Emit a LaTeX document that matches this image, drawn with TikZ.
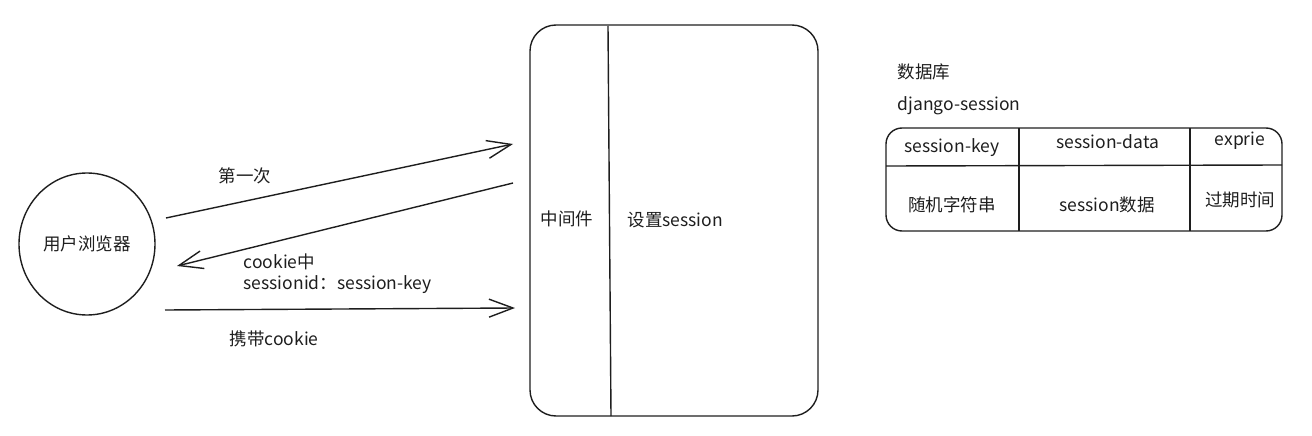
\documentclass[tikz,border=0pt]{standalone}
\usepackage{fontspec}
\newfontfamily\cjk{Noto Sans CJK SC}
\usetikzlibrary{arrows.meta,shapes.geometric}
\definecolor{ink}{HTML}{1E1E1E}
\tikzset{
	txt/.style={font=\cjk\fontsize{17.5}{22}\selectfont, text=ink, inner sep=0pt},
	flow/.style={draw=ink, line width=1.4pt, -{Straight Barb[length=24pt, width=18pt, line width=1.4pt]}}
}
\begin{document}
\begin{tikzpicture}[x=1pt, y=-1pt, line width=1.4pt]
	\useasboundingbox (0,0) rectangle (1312,436);
	
	% browser
	\node[draw=ink, ellipse, minimum width=136pt, minimum height=142pt, txt] (browser) at (87,244) {用户浏览器};
	
	% middleware
	\node[draw=ink, rounded corners=26pt, minimum width=288pt, minimum height=391pt] (mw) at (674,220.5) {};
	\coordinate (mwtop) at (608,26);
	\coordinate (mwbot) at (611,416);
	\draw[ink] (mwtop)--(mwbot);
	\node[txt] (mwlabel) at (567,219) {中间件};
	\node[txt, anchor=west] (setsess) at (627,220) {设置session};
	
	% arrows
	\coordinate (a1s) at (166,218);
	\coordinate (a1e) at (513,144);
	\coordinate (a2s) at (513,183);
	\coordinate (a2e) at (177,266);
	\coordinate (a3s) at (165,310);
	\coordinate (a3e) at (515,308);
	\draw[flow] (a1s)--(a1e);
	\draw[flow] (a2s)--(a2e);
	\draw[flow] (a3s)--(a3e);
	\node[txt] (first) at (245,176) {第一次};
	\node[txt, anchor=west] (cookiein) at (243,262) {cookie中};
	\node[txt, anchor=west] (sessid) at (243,285) {sessionid：session-key};
	\node[txt, anchor=west] (carry) at (229,339) {携带cookie};
	
	% database
	\node[txt, anchor=west] (db) at (897,72) {数据库};
	\node[txt, anchor=west] (dbtable) at (897,106) {django-session};
	\node[draw=ink, rounded corners=16pt, minimum width=396pt, minimum height=103pt] (tbl) at (1084,179.5) {};
	\coordinate (rowl) at (886,166);
	\coordinate (rowr) at (1282,165);
	\draw[ink] (rowl)--(rowr);
	\foreach \x in {1019, 1190}
		\draw[ink] (\x,128)--(\x,231);
	\node[txt] (hkey) at (952,148) {session-key};
	\node[txt] (hdata) at (1108,142) {session-data};
	\node[txt] (hexp) at (1240,141) {exprie};
	\node[txt] (vkey) at (952,205) {随机字符串};
	\node[txt] (vdata) at (1107,205) {session数据};
	\node[txt] (vexp) at (1240,200) {过期时间};
\end{tikzpicture}
\end{document}
